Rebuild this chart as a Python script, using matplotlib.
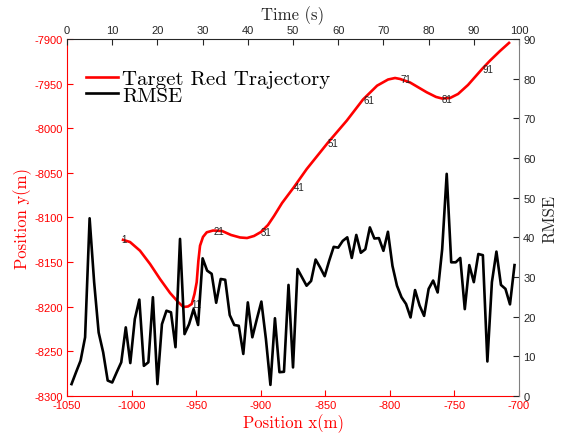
import numpy as np
import matplotlib
matplotlib.use("Agg")
import matplotlib.pyplot as plt
from matplotlib.lines import Line2D

plt.rcParams['axes.unicode_minus'] = False

# target trajectory (position in metres), sampled along the path
traj_x = [-1007.6, -1001.2, -993.5, -985.7, -978.0, -970.2, -964.0, -959.9, -956.3, -953.4,
          -951.3, -949.6, -948.3, -947.0, -944.7, -941.8, -936.9, -930.0, -923.0, -916.0,
          -910.6, -905.2, -899.8, -894.4, -889.7, -883.5, -874.2, -864.4, -847.9, -833.4,
          -820.8, -809.9, -801.4, -796.0, -792.1, -784.4, -771.5, -764.3, -759.6, -753.4,
          -747.2, -739.5, -728.6, -722.5, -714.7, -707.0]
traj_y = [-8124.6, -8127.5, -8137.2, -8152.1, -8168.9, -8184.6, -8194.7, -8200.3, -8199.7, -8196.9,
          -8185.7, -8172.6, -8148.7, -8131.6, -8121.8, -8116.6, -8114.6, -8115.1, -8119.6, -8122.4,
          -8123.0, -8120.7, -8116.2, -8108.4, -8098.3, -8083.8, -8065.8, -8045.7, -8016.0, -7991.5,
          -7967.8, -7952.3, -7945.4, -7943.7, -7944.8, -7948.7, -7959.7, -7964.9, -7966.7, -7966.1,
          -7961.6, -7951.5, -7933.6, -7924.3, -7913.4, -7903.4]

# time-step markers along the path: text and index into traj_x / traj_y
step_text = ['1', '11', '21', '31', '41', '51', '61', '71', '81', '91']
step_idx = [0, 9, 16, 22, 26, 28, 30, 34, 38, 42]

# RMSE per time step
rmse = [3.0, 6.0, 8.9, 14.8, 44.8, 28.7, 16.0, 11.0, 3.9, 3.4,
        6.0, 8.5, 17.3, 8.3, 19.4, 24.3, 7.6, 8.5, 24.9, 3.0,
        18.1, 21.5, 21.1, 12.3, 39.6, 15.6, 18.1, 21.9, 17.9, 34.7,
        31.6, 30.8, 23.5, 29.5, 29.3, 20.4, 17.9, 17.7, 10.6, 23.6,
        14.8, 19.4, 23.8, 14.4, 2.8, 19.6, 6.0, 6.1, 28.0, 7.2,
        32.0, 29.9, 27.8, 29.0, 34.4, 32.4, 30.2, 34.1, 37.6, 37.4,
        39.1, 40.0, 34.8, 40.6, 36.1, 37.0, 42.5, 39.7, 39.8, 36.6,
        41.4, 32.8, 27.8, 24.9, 23.2, 19.8, 26.7, 22.8, 20.2, 27.0,
        29.1, 26.1, 37.0, 56.0, 33.7, 33.7, 34.8, 21.9, 33.0, 28.7,
        35.8, 35.5, 8.7, 28.7, 36.4, 28.0, 27.0, 23.1, 33.0]
time = np.arange(1, len(rmse) + 1)

red = '#ff0000'
grey = '#262626'
serif = 'cmr10'

fig = plt.figure(figsize=(5.66, 4.39), dpi=100)
pos = [0.1184, 0.0957, 0.7986, 0.8132]

# position axes (bottom / left)
ax1 = fig.add_axes(pos)
ax1.plot(traj_x, traj_y, color=red, lw=1.9, solid_capstyle='butt')
for txt, i in zip(step_text, step_idx):
    ax1.text(traj_x[i], traj_y[i], txt, fontsize=7, color='#222222',
             ha='left', va='center', family='Liberation Sans')
ax1.set_xlim(-1050, -700)
ax1.set_ylim(-8300, -7900)
ax1.set_xticks(np.arange(-1050, -699, 50))
ax1.set_yticks(np.arange(-8300, -7899, 50))
ax1.tick_params(direction='in', length=4, colors=red, labelsize=8, pad=3)
for lab in ax1.get_xticklabels() + ax1.get_yticklabels():
    lab.set_family('Liberation Sans')
for side in ['top', 'right']:
    ax1.spines[side].set_visible(False)
for side in ['left', 'bottom']:
    ax1.spines[side].set_color(red)
ax1.set_xlabel('Position x(m)', color=red, fontsize=12, family=serif, labelpad=2)
ax1.set_ylabel('Position y(m)', color=red, fontsize=12, family=serif, labelpad=2)

# time axes (top / right)
ax2 = fig.add_axes(pos)
ax2.patch.set_visible(False)
ax2.plot(time, rmse, color='black', lw=1.9)
ax2.set_xlim(0, 100)
ax2.set_ylim(0, 90)
ax2.set_xticks(np.arange(0, 101, 10))
ax2.set_yticks(np.arange(0, 91, 10))
ax2.xaxis.tick_top()
ax2.yaxis.tick_right()
ax2.xaxis.set_label_position('top')
ax2.yaxis.set_label_position('right')
ax2.tick_params(direction='in', length=4, colors=grey, labelsize=8, pad=3)
for lab in ax2.get_xticklabels() + ax2.get_yticklabels():
    lab.set_family('Liberation Sans')
for side in ['left', 'bottom']:
    ax2.spines[side].set_visible(False)
ax2.spines['top'].set_color(grey)
ax2.spines['right'].set_color('#808080')
ax2.set_xlabel('Time (s)', color=grey, fontsize=12, family=serif, labelpad=4)
ax2.set_ylabel('RMSE', color=grey, fontsize=12, family=serif, labelpad=5)

handles = [Line2D([], [], color=red, lw=1.9), Line2D([], [], color='black', lw=1.9)]
ax2.legend(handles, ['Target Red Trajectory', 'RMSE'], loc='upper left',
           bbox_to_anchor=(0.043, 0.914), frameon=False, borderpad=0, borderaxespad=0,
           handlelength=1.5, handletextpad=0.2, labelspacing=-0.1,
           prop={'family': serif, 'size': 15})

fig.savefig('out.png', dpi=100)
